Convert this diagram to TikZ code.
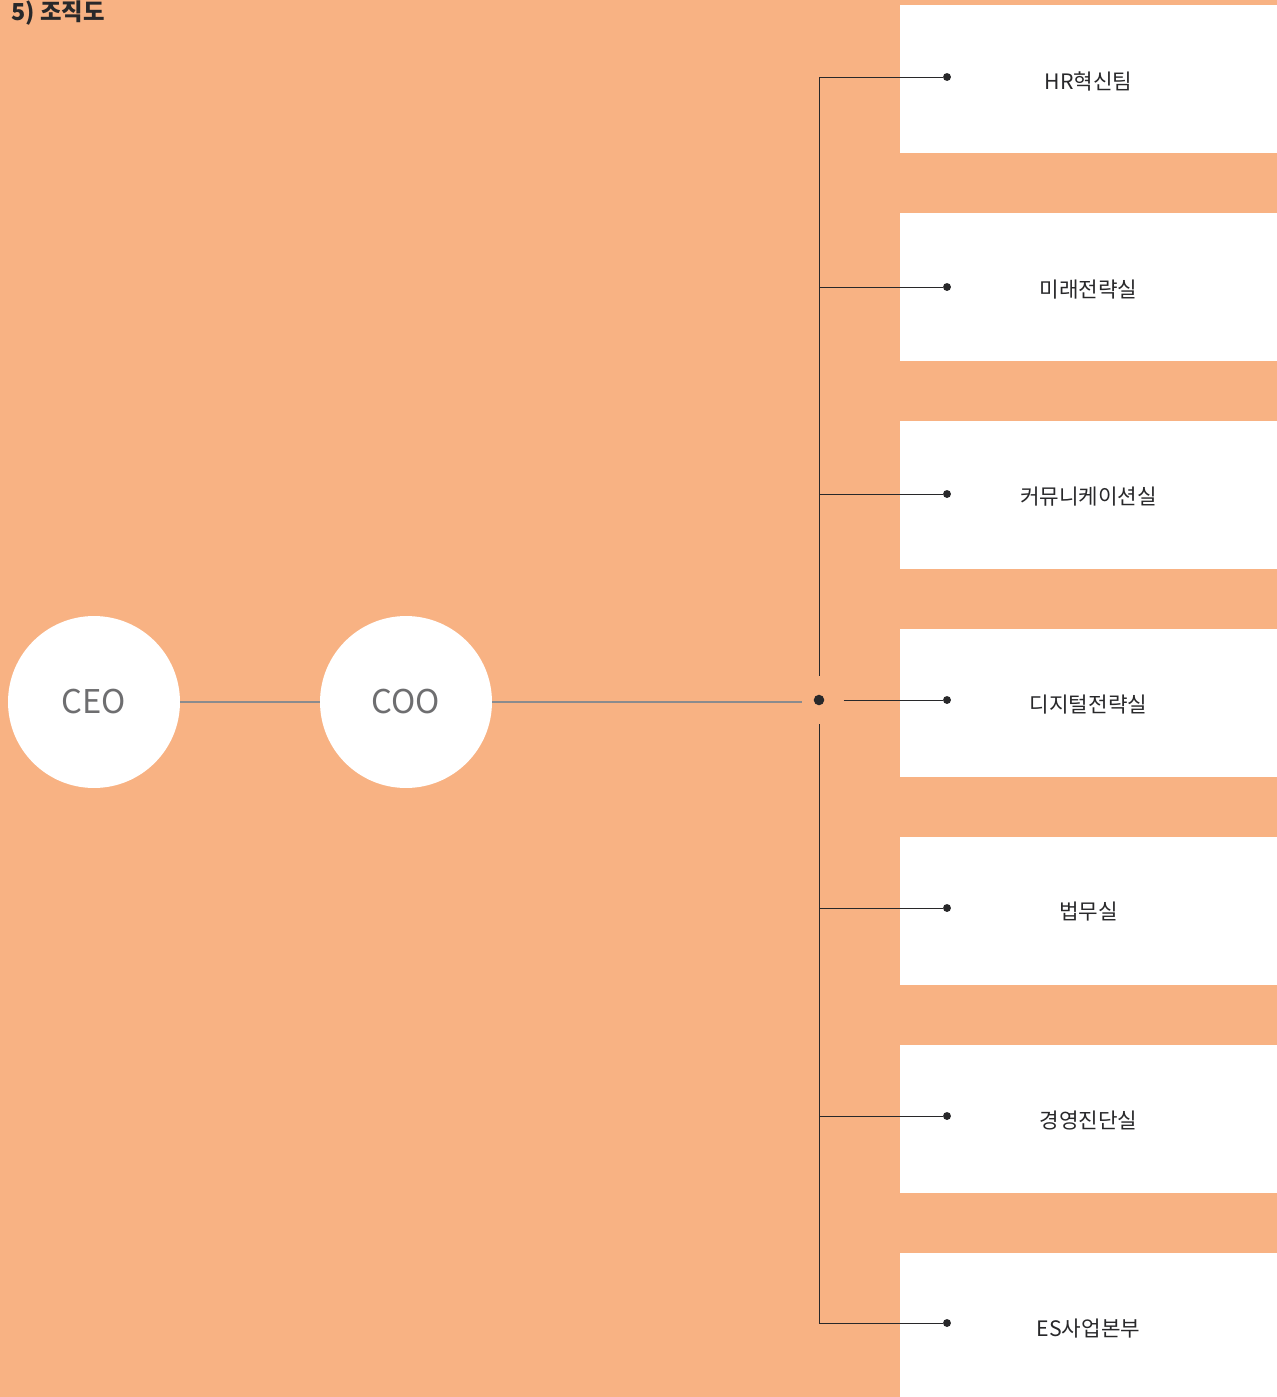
\documentclass[tikz,border=0pt]{standalone}
\usepackage{fontspec}
\newfontfamily\kr{Noto Sans CJK KR}
\definecolor{bgorange}{RGB}{248,178,131}
\definecolor{headgray}{RGB}{110,110,112}
\definecolor{textdark}{RGB}{40,40,42}

\begin{document}
\begin{tikzpicture}[x=0.02cm,y=-0.02cm,font=\kr,
  head/.style={circle,fill=white,minimum size=3.44cm,inner sep=0pt,
    text=headgray,font=\kr\fontsize{18.6}{22}\selectfont},
  unit/.style={rectangle,fill=white,minimum width=7.54cm,minimum height=2.96cm,
    inner sep=0pt,text=textdark},
  unitlabel/.style={text=textdark,font=\kr\fontsize{12.1}{15}\selectfont},
  tip/.style={circle,fill=textdark,minimum size=4.5pt,inner sep=0pt},
  link/.style={draw=textdark,line width=0.55pt},
  grayline/.style={draw=headgray!80,line width=0.8pt}]

\useasboundingbox (0,0) rectangle (1277,1397);
\fill[bgorange] (0,0) rectangle (1277,1397);

\node[anchor=west,text=textdark,font=\kr\bfseries\fontsize{13.3}{16}\selectfont] (title) at (5,13) {5) 조직도};

% top of the chart
\node[head] (ceo) at (94,702) {CEO};
\node[head] (coo) at (406,702) {COO};
\node[circle,fill=textdark,minimum size=6pt,inner sep=0pt] (hub) at (819,700) {};

\draw[grayline] (ceo) -- (coo);
\draw[grayline,shorten >=17*0.02cm] (coo) -- (coo -| hub);

% units
\foreach \name/\y in {u1/79, u2/287, u3/495, u4/703, u5/911, u6/1119}
  \node[unit] (\name) at (1088.5,\y) {};
\node[unit,minimum height=2.88cm] (u7) at (1088.5,1325) {};

\foreach \name/\txt/\y in {l1/HR혁신팀/81, l2/미래전략실/290, l3/커뮤니케이션실/497,
  l4/디지털전략실/705, l5/법무실/912, l6/경영진단실/1121, l7/ES사업본부/1329}
  \node[unitlabel] (\name) at (1088.5,\y) {\txt};

\foreach \i/\y in {1/77,2/287,3/494,4/700,5/908,6/1116,7/1323}
  \node[tip] (d\i) at (947,\y) {};

\foreach \i in {1,2,3,5,6,7}
  \draw[link,shorten >=18*0.02cm] (d\i) -| (hub);
\draw[link,shorten <=19*0.02cm] (hub) -- (d4);

\end{tikzpicture}
\end{document}
